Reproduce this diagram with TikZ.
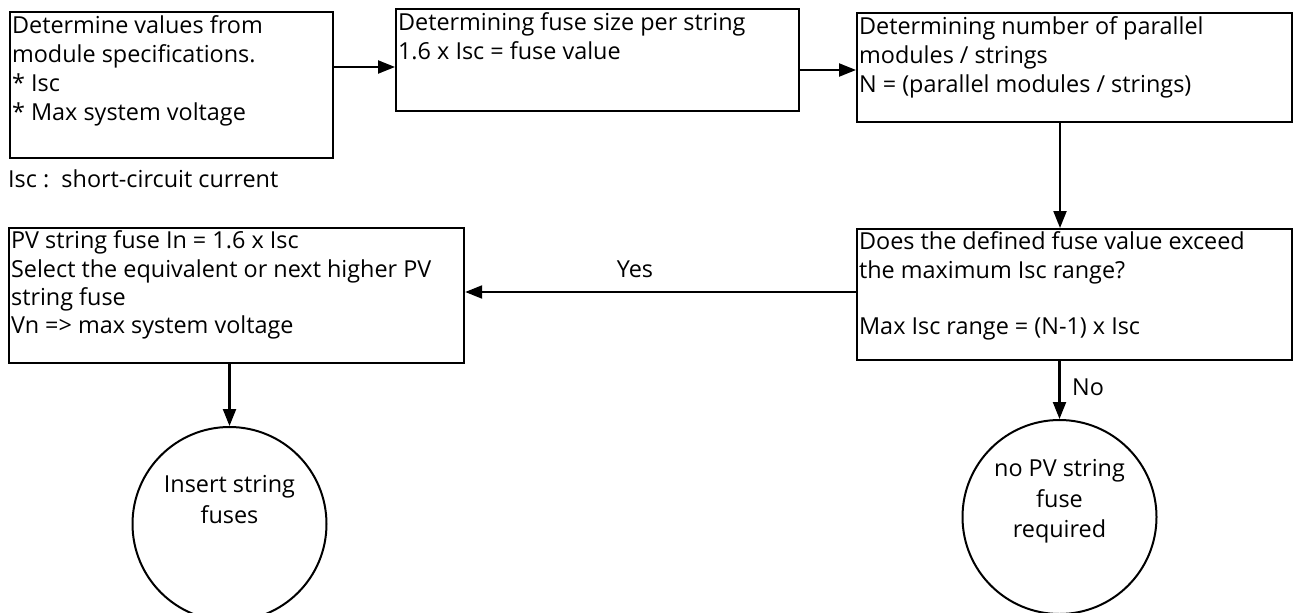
\documentclass[tikz,border=0pt]{standalone}
\usepackage{fontspec}
\setmainfont{Open Sans}
\usetikzlibrary{arrows.meta,calc}

% text sizes used in the chart
\newcommand\boxfont{\fontsize{23.4}{29}\selectfont}
\newcommand\lowboxfont{\fontsize{23.4}{28.2}\selectfont}
\newcommand\circfont{\fontsize{23.4}{30.5}\selectfont}
% top-aligned, flush-left content of a process box: width, height, text
\newcommand\boxcontent[3]{\parbox[t][#2][t]{#1}{\raggedright\strut#3}}

\tikzset{
  flowbox/.style={draw, rectangle, line width=2.2pt, inner xsep=2pt,
    inner ysep=1pt, anchor=north west, font=\boxfont},
  lowbox/.style={flowbox, font=\lowboxfont},
  endcircle/.style={draw, circle, line width=2pt, minimum size=194pt,
    inner sep=0pt},
  circtext/.style={align=center, inner sep=0pt, font=\circfont},
  lbl/.style={inner sep=0pt, font=\boxfont},
  flow/.style={line width=2.2pt, -{Triangle[length=17pt,width=13pt]}},
}

\begin{document}
\begin{tikzpicture}[x=1pt, y=-1pt]
\useasboundingbox (0,0) rectangle (1293,613);

% process boxes
\node[flowbox] (b1) at (9,11) {\boxcontent{319pt}{144pt}{Determine values from\\
  module specifications.\\{}* Isc\\{}* Max system voltage}};
\node[flowbox] (b2) at (395,8) {\boxcontent{399pt}{100pt}{Determining fuse size per string\\
  1.6 x Isc = fuse value}};
\node[flowbox] (b3) at (856,12) {\boxcontent{431pt}{107pt}{Determining number of parallel\\
  modules / strings\\ N = (parallel modules / strings)}};
\node[lowbox] (b4) at (856,228) {\boxcontent{431pt}{129pt}{Does the defined fuse value exceed\\
  the maximum Isc range?\\ \strut\\ Max Isc range = (N-1) x Isc}};
\node[lowbox] (b5) at (8,227) {\boxcontent{451pt}{133pt}{PV string fuse In = 1.6 x Isc\\
  Select the equivalent or next higher PV\\ string fuse\\ Vn => max system voltage}};

% note under the first box
\node[lbl, anchor=base west] (note) at (8,187) {Isc :\ \ short-circuit current};

% terminal circles
\node[endcircle] (c1) at (229.5,524) {};
\node[circtext] (t1) at (229.5,502) {\strut Insert string\strut\\ \strut fuses\strut};
\node[endcircle] (c2) at (1059.5,517) {};
\node[circtext] (t2) at (1059.5,501) {\strut no PV string\strut\\ \strut fuse\strut\\ \strut required\strut};

% connectors
\coordinate (ya) at (0,67);
\coordinate (yb) at (0,70);
\coordinate (xc) at (1060,0);
\coordinate (yd) at (0,292);
\draw[flow] (b1.east |- ya) -- (b2.west |- ya);
\draw[flow] (b2.east |- yb) -- (b3.west |- yb);
\draw[flow] (b3.south -| xc) -- (b4.north -| xc);
\draw[flow] (b4.west |- yd) -- (b5.east |- yd);
\draw[flow] (b5.south -| c1.center) -- (c1.north);
\draw[flow] (b4.south -| c2.center) -- (c2.north);

% branch labels
\node[lbl, anchor=base] (yes) at (635,277) {Yes};
\node[lbl, anchor=base west] (no) at (1072,395) {No};
\end{tikzpicture}
\end{document}
